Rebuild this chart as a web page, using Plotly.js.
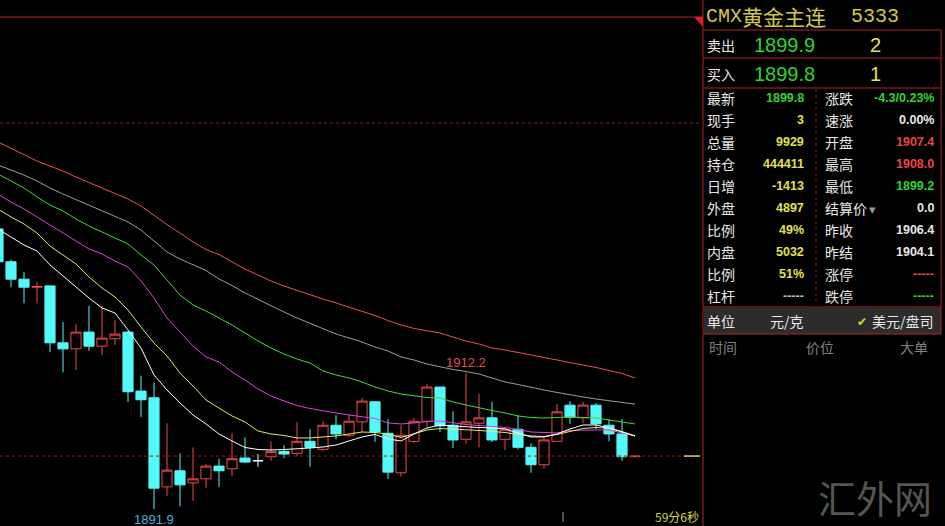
<!DOCTYPE html>
<html><head><meta charset="utf-8">
<script src="https://cdn.plot.ly/plotly-3.0.1.min.js"></script>
<style>html,body{margin:0;padding:0;background:#000;overflow:hidden}#chart{width:945px;height:526px}</style>
</head><body><div id="chart"></div>
<script>
// ---- candle data (index 0..49) ----
const openP  = [1933.7,1928.8,1926.2,1925.0,1925.2,1916.7,1915.8,1918.3,1916.2,1917.3,1918.3,1909.5,1908.5,1895.2,1897.6,1895.8,1896.4,1898.3,1897.9,1899.5,1899.1,1899.7,1900.5,1900.2,1902.0,1900.8,1904.4,1902.9,1904.9,1907.9,1903.2,1897.3,1902.0,1905.0,1910.1,1904.4,1902.3,1904.7,1905.5,1902.3,1903.8,1901.1,1898.5,1902.0,1907.4,1905.5,1907.4,1904.4,1903.1,1899.7];
const highP  = [1934.3,1929.1,1927.3,1925.8,1925.2,1919.8,1919.5,1922.2,1922.2,1920.1,1918.5,1911.8,1910.7,1904.7,1900.2,1901.1,1898.6,1899.4,1903.2,1902.6,1900.1,1902.0,1901.4,1904.9,1903.8,1905.0,1905.9,1906.1,1908.5,1908.0,1905.3,1904.4,1905.5,1910.6,1910.1,1906.5,1912.2,1909.1,1907.9,1904.1,1905.9,1901.7,1902.6,1907.6,1908.0,1907.9,1907.7,1905.3,1905.3,1899.8];
const lowP   = [1928.2,1925.0,1922.6,1922.6,1915.3,1912.3,1912.6,1915.5,1914.9,1916.4,1907.9,1905.6,1891.9,1893.8,1892.3,1893.1,1895.0,1895.2,1896.8,1898.8,1898.2,1899.1,1899.5,1899.8,1898.2,1900.5,1902.3,1902.6,1903.4,1901.9,1896.4,1896.7,1901.7,1904.1,1903.4,1901.0,1901.6,1901.1,1901.9,1900.7,1900.8,1897.3,1897.9,1902.0,1904.6,1904.7,1903.8,1902.0,1899.1,1899.7];
const closeP = [1928.8,1926.2,1925.0,1925.1,1916.7,1915.8,1918.3,1916.2,1917.4,1918.0,1909.4,1908.2,1895.0,1897.7,1895.5,1896.4,1898.3,1897.6,1899.4,1898.9,1899.1,1900.5,1900.1,1902.0,1901.1,1904.4,1903.1,1905.0,1908.0,1903.4,1897.4,1902.9,1905.0,1910.1,1904.3,1902.2,1904.9,1905.5,1902.2,1903.8,1901.1,1898.5,1902.2,1906.4,1905.6,1907.4,1904.6,1903.1,1899.7,1899.8];

// ---- moving average lines ----
const maWhite  = [1933.69,1932.50,1931.30,1930.41,1928.32,1926.68,1925.03,1923.39,1921.90,1921.15,1918.62,1915.93,1911.90,1909.66,1907.72,1905.93,1904.59,1903.09,1902.05,1901.08,1900.78,1900.71,1900.78,1900.86,1901.00,1901.15,1901.45,1902.05,1902.65,1903.02,1902.35,1902.05,1903.09,1903.99,1904.44,1904.29,1904.14,1904.06,1903.99,1903.84,1903.24,1902.65,1902.65,1903.09,1903.84,1904.44,1904.44,1903.99,1903.39,1902.80];
const maYellow = [1936.68,1935.48,1934.44,1933.09,1931.15,1929.81,1928.47,1926.53,1924.89,1923.54,1921.60,1919.06,1916.68,1914.74,1912.20,1910.26,1908.17,1906.97,1905.78,1904.89,1903.54,1903.09,1902.87,1902.50,1902.50,1902.65,1902.80,1903.09,1903.39,1903.32,1903.09,1902.57,1903.09,1903.69,1903.91,1903.84,1903.69,1903.62,1903.47,1903.32,1903.02,1902.80,1902.72,1903.02,1903.47,1903.91,1904.06,1903.99,1903.47,1902.80];
const maMagenta= [1938.91,1937.72,1936.68,1935.48,1934.29,1933.09,1931.90,1930.71,1929.96,1928.91,1928.02,1925.93,1923.39,1920.41,1918.32,1916.23,1914.59,1913.84,1912.35,1911.15,1909.81,1908.77,1908.02,1907.35,1906.90,1906.53,1906.23,1905.93,1905.71,1905.41,1904.74,1904.59,1904.74,1904.96,1905.03,1904.74,1904.51,1904.36,1904.21,1904.06,1903.77,1903.39,1903.32,1903.24,1903.62,1903.69,1903.69,1903.69,1903.24,1902.80];
const maGreen  = [1941.90,1940.86,1939.81,1938.47,1937.27,1936.38,1935.18,1934.14,1933.24,1932.35,1931.45,1929.81,1928.32,1926.08,1923.84,1922.35,1921.45,1920.41,1919.36,1918.17,1916.97,1915.93,1915.03,1914.29,1913.69,1912.50,1911.90,1911.45,1910.86,1910.11,1909.51,1909.06,1908.77,1908.54,1908.47,1907.87,1907.42,1906.97,1906.60,1906.23,1905.78,1905.56,1905.48,1905.56,1905.63,1905.56,1905.48,1905.18,1904.89,1904.59];
const maGray   = [1943.24,1942.50,1941.75,1940.86,1939.81,1938.91,1938.09,1937.27,1936.38,1935.56,1934.74,1933.54,1931.90,1930.26,1929.21,1928.32,1927.50,1926.23,1925.26,1924.14,1923.17,1922.20,1921.30,1920.41,1919.59,1918.77,1918.02,1917.42,1916.83,1916.08,1915.48,1914.59,1914.14,1913.54,1913.09,1912.72,1912.42,1912.05,1911.45,1910.86,1910.48,1910.03,1909.66,1909.29,1908.92,1908.62,1908.32,1908.02,1907.80,1907.57];
const maRed    = [1946.68,1945.71,1944.74,1943.84,1943.09,1942.35,1941.45,1940.63,1939.81,1939.06,1938.17,1937.12,1935.71,1934.36,1933.09,1931.75,1930.63,1929.89,1928.77,1927.72,1926.83,1925.93,1925.18,1924.51,1923.84,1923.24,1922.65,1922.05,1921.45,1920.78,1920.03,1919.36,1918.84,1918.47,1918.17,1917.57,1916.97,1916.53,1915.93,1915.63,1915.26,1914.89,1914.59,1914.21,1913.84,1913.47,1913.02,1912.57,1912.12,1911.45];

const lastPrice = 1899.8;
const upperGuide = 1949.5;
const highLabel = "1912.2";
const lowLabel = "1891.9";
const timerText = "59分6秒";

// ---- quote panel text ----
const titleParts = ["CMX", "黄金主连", "5333"];
const bookLabels = ["卖出", "买入"];
const bookPrices = ["1899.9", "1899.8"];
const bookVolumes = ["2", "1"];
const leftLabels = ["最新","现手","总量","持仓","日增","外盘","比例","内盘","比例","杠杆"];
const leftValues = ["1899.8","3","9929","444411","-1413","4897","49%","5032","51%","-----"];
const rightLabels = ["涨跌","速涨","开盘","最高","最低","结算价","昨收","昨结","涨停","跌停"];
const rightValues = ["-4.3/0.23%","0.00%","1907.4","1908.0","1899.2","0.0","1906.4","1904.1","-----","-----"];
const unitRow = ["单位","元/克","美元/盘司"];
const headRow = ["时间","价位","大单"];
const watermark = "汇外网";

// ---- styles ----
const GREEN = '#2fd42f', YELLOW = '#e2e24c', RED = '#ee4444', WHITE = '#e8e8e8';
const leftColors = [GREEN,YELLOW,YELLOW,YELLOW,YELLOW,YELLOW,YELLOW,YELLOW,YELLOW,'#bbbbbb'];
const rightColors = [GREEN,WHITE,RED,RED,GREEN,WHITE,WHITE,WHITE,RED,GREEN];

const W = 945, H = 526;
const fx = p => p / W, fy = p => 1 - p / H;
const CJK = '"Noto Sans CJK SC", sans-serif';
const NUM = '"Liberation Sans", Arial, sans-serif';

const idx = openP.map((_, i) => i);
const up = idx.filter(i => closeP[i] > openP[i]);
const dn = idx.filter(i => closeP[i] < openP[i]);
const flat = idx.filter(i => closeP[i] === openP[i]);
function candle(ids, incCol, incFill, decCol, decFill) {
  return {
    type: 'candlestick', x: ids, open: ids.map(i => openP[i]), high: ids.map(i => highP[i]),
    low: ids.map(i => lowP[i]), close: ids.map(i => closeP[i]),
    increasing: {line: {color: incCol, width: 1}, fillcolor: incFill},
    decreasing: {line: {color: decCol, width: 1}, fillcolor: decFill},
    whiskerwidth: 0, hoverinfo: 'skip', showlegend: false
  };
}
const CYAN = '#54f8f8', CRED = '#f04848';
const traces = [
  candle(up, CRED, '#000000', CRED, '#000000'),
  candle(dn, CYAN, CYAN, CYAN, CYAN),
  candle(flat, '#ffffff', '#ffffff', '#ffffff', '#ffffff')
];
const maDefs = [[maRed,'#f05050'],[maGray,'#9c9c9c'],[maGreen,'#40d840'],[maMagenta,'#e040e0'],[maYellow,'#e6e664'],[maWhite,'#ffffff']];
maDefs.forEach(([v, c]) => traces.push({type: 'scatter', mode: 'lines', x: idx, y: v,
  line: {color: c, width: 1}, hoverinfo: 'skip', showlegend: false}));

const BORDER = '#b42222', DASH = '#8a1e1e';
const shapes = [];
function hline(x0, x1, y, color, dash) { shapes.push({type:'line', xref:'paper', yref:'paper', x0:fx(x0), x1:fx(x1), y0:fy(y), y1:fy(y), line:{color, width:1, dash: dash || 'solid'}}); }
function vline(x, y0, y1, color, dash) { shapes.push({type:'line', xref:'paper', yref:'paper', x0:fx(x), x1:fx(x), y0:fy(y0), y1:fy(y1), line:{color, width:1, dash: dash || 'solid'}}); }
// chart guides
shapes.push({type:'line', xref:'paper', yref:'y', x0:0, x1:fx(700), y0:lastPrice, y1:lastPrice, line:{color:DASH, width:1, dash:'3px,3px'}});
shapes.push({type:'line', xref:'paper', yref:'y', x0:0, x1:fx(700), y0:upperGuide, y1:upperGuide, line:{color:DASH, width:1, dash:'3px,3px'}});
shapes.push({type:'line', xref:'paper', yref:'y', x0:fx(684), x1:fx(700), y0:lastPrice, y1:lastPrice, line:{color:'#d8d840', width:1.5}});
hline(0, 703, 17, BORDER);
shapes.push({type:'path', xref:'paper', yref:'paper', path:`M ${fx(694)},${fy(17)} L ${fx(703)},${fy(17)} L ${fx(703)},${fy(27)} Z`, fillcolor:'#e02020', line:{width:0}});
vline(563, 512, 522, '#9a9a9a');
// panel
shapes.push({type:'rect', xref:'paper', yref:'paper', x0:fx(704), x1:fx(941), y0:fy(334), y1:fy(308), fillcolor:'#2c2c2c', line:{width:0}});
vline(703, 0, 526, BORDER);
vline(941, 30, 334, BORDER);
[30, 58, 88, 307, 334].forEach(y => hline(703, 941, y, BORDER));
vline(816, 89, 306, DASH, '3px,3px');

const annotations = [];
function txt(x, y, text, color, size, xanchor, family) {
  annotations.push({xref:'paper', yref:'paper', x:fx(x), y:fy(y), text, showarrow:false,
    xanchor: xanchor || 'left', yanchor:'middle', font:{color, size, family: family || CJK}, borderpad:0});
}
// title
txt(705, 16, titleParts[0], '#d2c848', 20, 'left', '"Liberation Mono", monospace');
txt(741, 16, titleParts[1], '#d2c848', 21, 'left', CJK);
txt(850, 16, titleParts[2], '#d2c848', 20, 'left', '"Liberation Mono", monospace');
// order book
[45, 74].forEach((y, k) => {
  txt(706, y, bookLabels[k], WHITE, 14);
  txt(753, y, bookPrices[k], GREEN, 20, 'left', NUM);
  txt(875, y, bookVolumes[k], YELLOW, 20, 'center', NUM);
});
// stats
leftLabels.forEach((l, k) => {
  const y = 98 + 22 * k;
  txt(706, y, l, WHITE, 14);
  txt(805, y, '<b>' + leftValues[k] + '</b>', leftColors[k], 12.5, 'right', NUM);
  txt(824, y, rightLabels[k], WHITE, 14);
  txt(935, y, '<b>' + rightValues[k] + '</b>', rightColors[k], 12.5, 'right', NUM);
});
txt(868, 98 + 22 * 5 + 1, '▾', '#9a9a9a', 13, 'left', '"DejaVu Sans", sans-serif');
// unit row
txt(706, 321, unitRow[0], WHITE, 14);
txt(787, 321, unitRow[1], WHITE, 14, 'center');
txt(862, 322, '✔', '#d8d820', 12, 'center', '"DejaVu Sans", sans-serif');
txt(935, 321, unitRow[2], WHITE, 14, 'right');
// header row
txt(708, 347, headRow[0], '#808080', 14);
txt(820, 347, headRow[1], '#808080', 14, 'center');
txt(929, 347, headRow[2], '#808080', 14, 'right');
// watermark
txt(875, 496, watermark, '#555555', 38, 'center');
// chart labels
annotations.push({xref:'x', yref:'y', x:36, y:highP[36], text:highLabel, showarrow:false, yanchor:'bottom', xanchor:'center', yshift:1, font:{color:'#e05050', size:13, family:NUM}});
annotations.push({xref:'x', yref:'y', x:12, y:lowP[12], text:lowLabel, showarrow:false, yanchor:'top', xanchor:'center', yshift:-1, font:{color:'#4ab0d8', size:13, family:NUM}});
txt(700, 516, timerText, '#d8d840', 12, 'right', CJK);

const layout = {
  width: W, height: H, margin: {l:0, r:0, t:0, b:0, pad:0},
  paper_bgcolor: '#000000', plot_bgcolor: '#000000',
  showlegend: false, hovermode: false, boxgap: 0.22, boxgroupgap: 0,
  xaxis: {domain:[0, fx(700)], range:[2/13, 54], visible:false, rangeslider:{visible:false}, fixedrange:true},
  yaxis: {domain:[0,1], range:[1889.36, 1967.87], visible:false, fixedrange:true},
  shapes, annotations
};
Plotly.newPlot('chart', traces, layout, {staticPlot:true, displayModeBar:false});
</script>
</body></html>
